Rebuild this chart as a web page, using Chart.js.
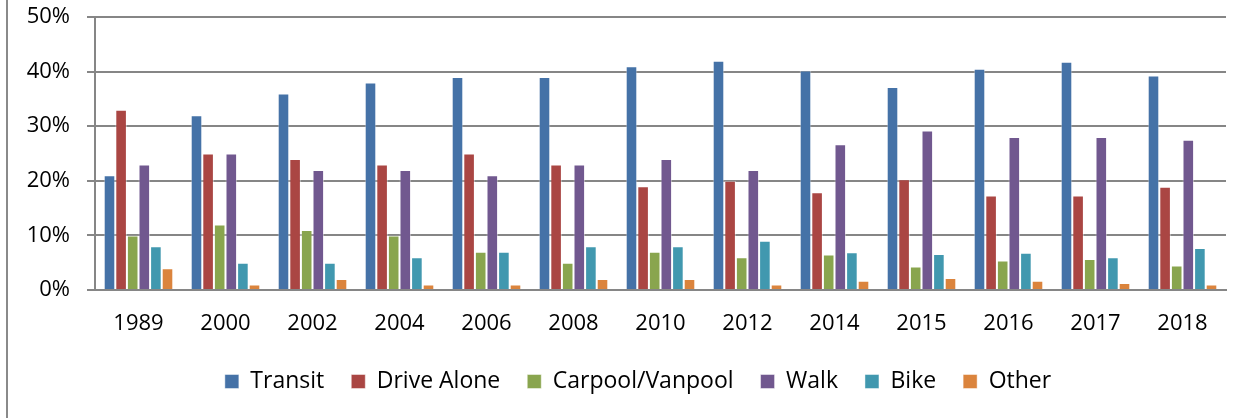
<!DOCTYPE html>
<html>
<head>
<meta charset="utf-8">
<script src="https://cdn.jsdelivr.net/npm/chart.js@4/dist/chart.umd.min.js"></script>
<style>
  html, body { margin: 0; padding: 0; background: #fff; }
  #wrap { position: relative; width: 1253px; height: 418px; }
  #frame { position: absolute; left: 6px; top: 0; width: 2px; height: 418px; background: #8a8a8a; }
</style>
</head>
<body>
<div id="wrap">
  <div id="frame"></div>
  <canvas id="chart" width="1253" height="418"></canvas>
</div>
<script>
// Années
const years = ['1989', '2000', '2002', '2004', '2006', '2008', '2010', '2012', '2014', '2015', '2016', '2017', '2018'];

// Parts modales (%)
const transit    = [21, 32, 36, 38, 39, 39, 41, 42, 40.2, 37.2, 40.5, 41.8, 39.3];
const driveAlone = [33, 25, 24, 23, 25, 23, 19, 20, 17.9, 20.3, 17.3, 17.3, 18.9];
const carpool    = [10, 12, 11, 10, 7, 5, 7, 6, 6.5, 4.3, 5.4, 5.7, 4.5];
const walk       = [23, 25, 22, 22, 21, 23, 24, 22, 26.7, 29.2, 28, 28, 27.5];
const bike       = [8, 5, 5, 6, 7, 8, 8, 9, 6.9, 6.6, 6.8, 6, 7.7];
const other      = [4, 1, 2, 1, 1, 2, 2, 1, 1.7, 2.2, 1.7, 1.3, 1];

const yTicks = [0, 10, 20, 30, 40, 50];

const FONT = "'Open Sans', 'DejaVu Sans', sans-serif";

function serie(label, data, color) {
    return {
        label: label,
        data: data,
        backgroundColor: color,
        borderColor: 'rgba(255,255,255,0.45)',
        borderWidth: 1,
        borderSkipped: 'bottom',
        categoryPercentage: 0.8,
        barPercentage: 1.0,
    };
}

// décale la légende pour la centrer comme dans l'original
const legendShift = {
    id: 'legendShift',
    afterLayout(chart) {
        chart.legend.left += 25;
        chart.legend.right += 25;
    },
};

new Chart(document.getElementById('chart').getContext('2d'), {
    type: 'bar',
    data: {
        labels: years,
        datasets: [
            serie('Transit', transit, '#4572A7'),
            serie('Drive Alone', driveAlone, '#AA4643'),
            serie('Carpool/Vanpool', carpool, '#89A54E'),
            serie('Walk', walk, '#71588F'),
            serie('Bike', bike, '#4198AF'),
            serie('Other', other, '#DB843D'),
        ],
    },
    plugins: [legendShift],
    options: {
        responsive: false,
        animation: false,
        layout: { padding: { left: 0, right: 27, top: 17, bottom: 15 } },
        plugins: {
            legend: {
                position: 'bottom',
                labels: {
                    color: '#000',
                    font: { family: FONT, size: 23 },
                    boxWidth: 14,
                    boxHeight: 14,
                    padding: 27,
                },
            },
            tooltip: { enabled: false },
        },
        scales: {
            x: {
                grid: { display: false, drawTicks: false },
                border: { display: true, color: '#868686', width: 2 },
                ticks: { color: '#000', font: { family: FONT, size: 22 }, padding: 21, maxRotation: 0 },
                afterFit: (s) => { s.height = 53; },
            },
            y: {
                min: 0,
                max: 50,
                afterBuildTicks: (s) => { s.ticks = yTicks.map(v => ({ value: v })); },
                grid: { color: '#868686', lineWidth: 2, tickLength: 8 },
                border: { display: true, color: '#868686', width: 2 },
                ticks: {
                    color: '#000',
                    font: { family: FONT, size: 22 },
                    padding: 17,
                    callback: (v) => v + '%',
                },
                afterFit: (s) => {
                    s.width = 95;
                    s.paddingTop = 0;
                    s.paddingBottom = 0;
                },
            },
        },
    },
});
</script>
</body>
</html>
